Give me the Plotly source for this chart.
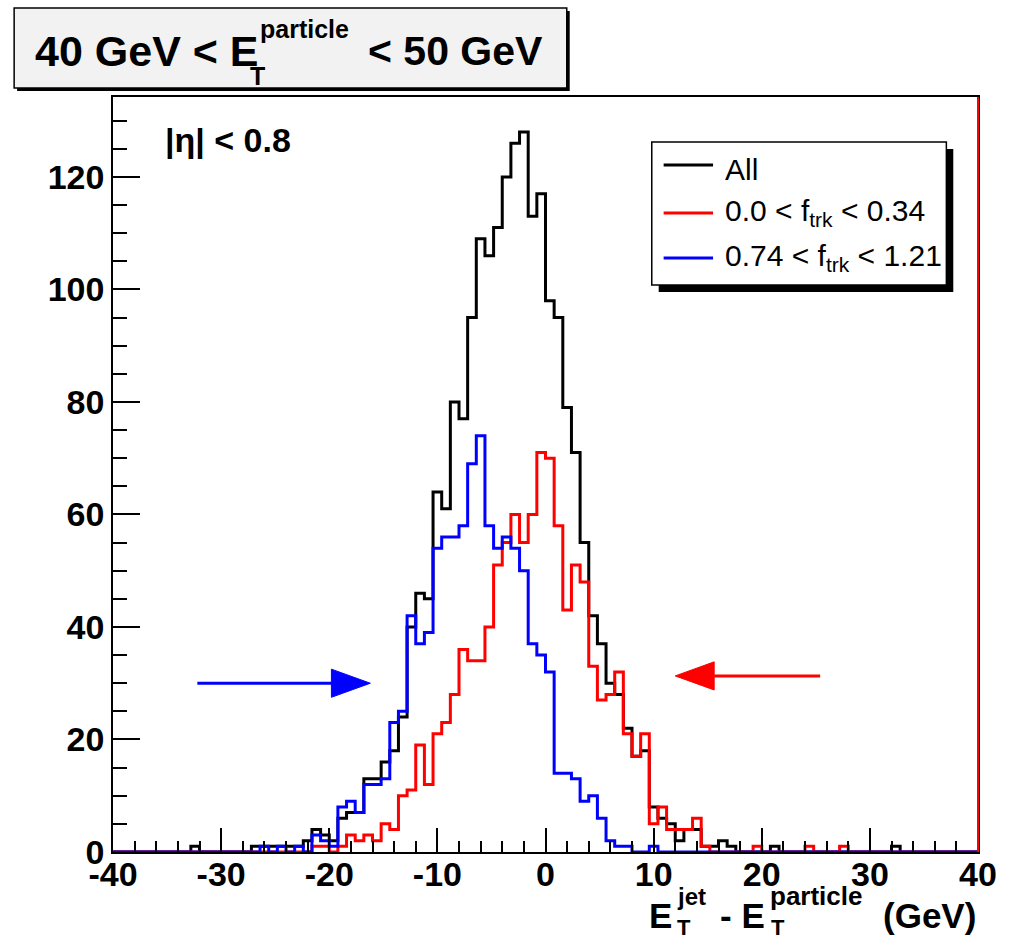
import numpy as np
import plotly.graph_objects as go

# ---------------- data ----------------
x_min, x_max, n_bins = -40.0, 40.0, 100

all_counts = [0, 0, 0, 0, 0, 0, 0, 0, 0, 1,
              0, 0, 0, 0, 0, 0, 1, 1, 1, 1,
              1, 1, 2, 4, 3, 2, 6, 7, 7, 13,
              13, 16, 18, 24, 40, 46, 45, 64, 61, 80,
              77, 95, 109, 106, 111, 120, 126, 128, 113, 117,
              98, 95, 79, 71, 55, 42, 37, 30, 28, 22,
              17, 18, 8, 6, 5, 2, 4, 4, 1, 1,
              2, 1, 0, 0, 0, 0, 1, 0, 0, 0,
              0, 0, 0, 0, 0, 0, 0, 0, 0, 0,
              1, 0, 0, 0, 0, 0, 0, 0, 0, 0]

low_ftrk_counts = [0, 0, 0, 0, 0, 0, 0, 0, 0, 0,
                   0, 0, 0, 0, 0, 0, 0, 0, 0, 0,
                   0, 0, 0, 1, 1, 0, 1, 3, 2, 3,
                   2, 5, 4, 10, 11, 19, 12, 21, 23, 28,
                   36, 34, 34, 40, 51, 55, 60, 55, 60, 71,
                   70, 58, 43, 51, 48, 33, 27, 28, 32, 21,
                   17, 21, 5, 8, 4, 4, 4, 6, 1, 0,
                   0, 0, 0, 0, 1, 0, 0, 0, 0, 0,
                   1, 0, 0, 0, 1, 0, 0, 0, 0, 0,
                   0, 0, 0, 0, 0, 0, 0, 0, 0, 0]

high_ftrk_counts = [0, 0, 0, 0, 0, 0, 0, 0, 0, 0,
                    0, 0, 0, 0, 0, 0, 0, 1, 0, 1,
                    0, 1, 0, 3, 2, 1, 8, 9, 7, 12,
                    12, 13, 23, 25, 42, 37, 39, 54, 56, 56,
                    58, 69, 74, 58, 54, 56, 54, 50, 37, 35,
                    32, 14, 14, 13, 9, 10, 6, 2, 1, 1,
                    0, 0, 1, 0, 0, 0, 0, 0, 0, 0,
                    0, 0, 0, 0, 0, 0, 0, 0, 0, 0,
                    0, 0, 0, 0, 0, 0, 0, 0, 0, 0,
                    0, 0, 0, 0, 0, 0, 0, 0, 0, 0]

series_names = ["All", "0.0 < f<sub>trk</sub> < 0.34", "0.74 < f<sub>trk</sub> < 1.21"]
series_colors = ["#000000", "#ff0000", "#0000ff"]

x_tick_vals = [-40, -30, -20, -10, 0, 10, 20, 30, 40]
x_tick_text = ["-40", "-30", "-20", "-10", "0", "10", "20", "30", "40"]
y_tick_vals = [0, 20, 40, 60, 80, 100, 120]
y_tick_text = ["0", "20", "40", "60", "80", "100", "120"]
y_max = 134.2

# arrows (data coordinates): tail x, tip x, y
blue_arrow = (-32.2, -16.2, 30.0)
red_arrow = (25.4, 12.0, 31.3)

# ---------------- figure ----------------
W, H = 1009, 941
L, R, T, B = 113, 21, 97, 89
PW, PH = W - L - R, H - T - B


def px(xp):
    return (xp - L) / PW


def py(yp):
    return (H - B - yp) / PH


edges = np.linspace(x_min, x_max, n_bins + 1)

fig = go.Figure()
for counts, name, col in zip([all_counts, low_ftrk_counts, high_ftrk_counts], series_names, series_colors):
    fig.add_trace(go.Scatter(
        x=list(edges), y=list(counts) + [counts[-1]],
        mode="lines", line=dict(shape="hv", color=col, width=3),
        name=name, hoverinfo="skip"))

FONT = "Liberation Sans"
tickfont = dict(family=FONT, size=34, color="black", weight="bold")

fig.update_layout(
    width=W, height=H,
    margin=dict(l=L, r=R, t=T, b=B),
    paper_bgcolor="white", plot_bgcolor="white",
    showlegend=False,
    xaxis=dict(range=[x_min, x_max], tickmode="array", tickvals=x_tick_vals, ticktext=x_tick_text,
               ticks="inside", ticklen=24, tickwidth=1.5, tickcolor="black",
               showline=True, linecolor="black", linewidth=1.5, mirror=True,
               showgrid=False, zeroline=False, tickfont=tickfont, ticklabelstandoff=-9,
               minor=dict(tickmode="linear", tick0=0, dtick=2, ticks="inside", ticklen=11,
                          tickwidth=1.5, tickcolor="black", showgrid=False)),
    yaxis=dict(range=[0, y_max], tickmode="array", tickvals=y_tick_vals, ticktext=y_tick_text,
               ticks="inside", ticklen=27, tickwidth=1.5, tickcolor="black",
               showline=True, linecolor="black", linewidth=1.5, mirror=True,
               showgrid=False, zeroline=False, tickfont=tickfont,
               minor=dict(tickmode="linear", tick0=0, dtick=5, ticks="inside", ticklen=14,
                          tickwidth=1.5, tickcolor="black", showgrid=False)),
)

shapes = []
annos = []

# red right frame line
shapes.append(dict(type="line", xref="paper", yref="paper", x0=1, x1=1, y0=0, y1=1,
                   line=dict(color="#ff0000", width=2)))

# title box with shadow
shapes.append(dict(type="rect", xref="paper", yref="paper", x0=px(16), x1=px(575), y0=py(91), y1=py(11),
                   fillcolor="black", line=dict(width=0), layer="above"))
shapes.append(dict(type="rect", xref="paper", yref="paper", x0=px(13), x1=px(572), y0=py(88), y1=py(8),
                   fillcolor="#f2f2f2", line=dict(color="black", width=1.5), layer="above"))

# legend box with shadow
shapes.append(dict(type="rect", xref="paper", yref="paper", x0=px(665), x1=px(963), y0=py(292), y1=py(149),
                   fillcolor="black", line=dict(width=0), layer="above"))
shapes.append(dict(type="rect", xref="paper", yref="paper", x0=px(658), x1=px(956), y0=py(285), y1=py(142),
                   fillcolor="white", line=dict(color="black", width=1.5), layer="above"))
leg_y = [165, 213, 258]
for yy, col in zip(leg_y, series_colors):
    shapes.append(dict(type="line", xref="paper", yref="paper", x0=px(670), x1=px(720), y0=py(yy), y1=py(yy),
                       line=dict(color=col, width=3), layer="above"))


def ptxt(text, xp, yp, size, weight="bold", xanchor="left", yanchor="middle"):
    annos.append(dict(text=text, xref="paper", yref="paper", x=px(xp), y=py(yp),
                      xanchor=xanchor, yanchor=yanchor, showarrow=False, borderpad=0,
                      font=dict(family=FONT, size=size, color="black", weight=weight)))


# legend texts
ptxt(series_names[0], 731, 170, 30, weight="normal")
ptxt(series_names[1], 731, 212, 30, weight="normal")
ptxt(series_names[2], 731, 257, 30, weight="normal")

# title text pieces
ptxt("40 GeV < E", 33, 51, 43)
ptxt("particle", 261, 29, 25)
ptxt("T", 251, 76, 25)
ptxt("< 50 GeV", 370, 51, 41)

# eta label
ptxt("|η| < 0.8", 165, 140, 34)

# x-axis title pieces
ptxt("E", 654, 915, 35)
ptxt("jet", 683, 896, 24)
ptxt("T", 683, 928, 22)
ptxt("- E", 726, 915, 35)
ptxt("particle", 777, 896, 26)
ptxt("T", 778, 928, 22)
ptxt("(GeV)", 987, 915, 35, xanchor="right")

# arrows as shaft + triangular head
for (xt, xh, yv), col in [(blue_arrow, "#0000ff"), (red_arrow, "#ff0000")]:
    dirn = 1 if xh > xt else -1
    head_len = 3.6
    half_h = 2.5
    xb = xh - dirn * head_len
    shapes.append(dict(type="line", xref="x", yref="y", x0=xt, x1=xb, y0=yv, y1=yv,
                       line=dict(color=col, width=3)))
    shapes.append(dict(type="path", xref="x", yref="y",
                       path=f"M {xh},{yv} L {xb},{yv + half_h} L {xb},{yv - half_h} Z",
                       fillcolor=col, line=dict(color=col, width=1)))

fig.update_layout(shapes=shapes, annotations=annos)
fig.write_html("out.html")
